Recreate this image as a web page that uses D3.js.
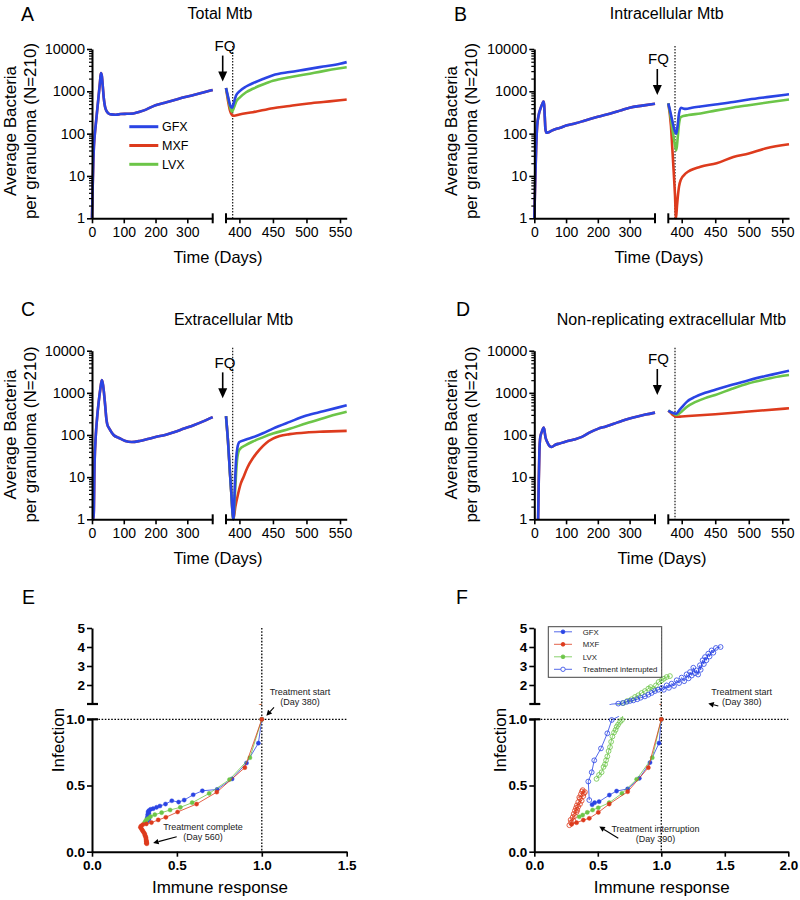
<!DOCTYPE html>
<html><head><meta charset="utf-8">
<script src="https://cdn.jsdelivr.net/npm/d3@7"></script>
<style>
body{margin:0;background:#fff;}
svg{display:block;font-family:"Liberation Sans",Arial,Helvetica,sans-serif;}
</style>
</head><body>
<svg id="c" width="800" height="900"></svg>
<script>
// ---------------- DATA ----------------
const drugs = ["GFX", "MXF", "LVX"];
const panelTitles = ["Total Mtb", "Intracellular Mtb", "Extracellular Mtb", "Non-replicating extracellular Mtb"];
const panelLetters = ["A", "B", "C", "D", "E", "F"];
const logTicks = [1, 10, 100, 1000, 10000];
const leftDayTicks = [0, 100, 200, 300];
const rightDayTicks = [400, 450, 500, 550];
const fqTip = [1700, 820, 740, 890];
const treatmentDay = 390;
const eXTicks = [0, 0.5, 1.0, 1.5];
const fXTicks = [0, 0.5, 1.0, 1.5, 2.0];
const loYTicks = [0, 0.5, 1.0];
const hiYTicks = [2, 3, 4, 5];
const legendF = ["GFX", "MXF", "LVX", "Treatment interrupted"];

// pre-treatment curves (all drugs identical), [day, bacteria]
const preA = [[0,1],[2,5],[4,20],[6,50],[9,100],[13,200],[17,400],[21,800],[25,1600],[28,2700],[31,2300],[34,1300],[37,700],[41,430],[46,340],[52,300],[60,285],[75,280],[90,290],[110,295],[130,300],[150,330],[170,370],[200,470],[230,540],[260,620],[290,720],[320,820],[350,940],[380,1080]];
const preB = [[0,1],[3,8],[6,50],[9,150],[14,280],[20,400],[25,500],[29,570],[31,480],[33,250],[35,130],[38,105],[45,108],[55,118],[70,130],[85,140],[100,155],[130,175],[160,205],[200,250],[240,300],[270,350],[300,410],[340,460],[380,510]];
const preC = [[0,1],[5,1],[8,20],[12,100],[16,250],[21,600],[26,1200],[31,2000],[35,1500],[39,800],[42,450],[45,250],[48,180],[55,140],[68,100],[85,85],[105,72],[125,68],[150,72],[175,80],[200,90],[230,100],[260,118],[290,142],[320,170],[350,210],[380,265]];
const preD = [[12,1],[14,8],[16,40],[19,90],[24,120],[29,150],[31,140],[35,90],[40,70],[48,55],[55,52],[65,58],[80,63],[100,70],[125,78],[150,90],[175,115],[200,140],[225,160],[250,185],[275,215],[300,245],[325,275],[350,305],[380,340]];

// post-treatment curves
const postA_GFX = [[380,1200],[383,750],[386,480],[389,410],[392,560],[395,800],[400,1000],[410,1300],[420,1550],[435,1950],[450,2400],[475,2850],[500,3300],[525,3850],[550,4500],[560,4900]];
const postA_MXF = [[380,1200],[383,600],[386,350],[389,275],[392,265],[400,285],[420,320],[450,400],[475,450],[500,510],[525,560],[550,615],[560,640]];
const postA_LVX = [[380,1200],[383,700],[386,420],[389,330],[392,420],[396,600],[400,700],[410,950],[420,1150],[435,1450],[450,1770],[475,2150],[500,2520],[525,3000],[550,3500],[560,3700]];

const postB_GFX = [[380,520],[383,330],[386,200],[389,125],[392,100],[394,160],[396,300],[399,410],[402,395],[406,385],[415,410],[428,440],[450,490],[477,560],[500,640],[530,740],[560,850]];
const postB_MXF = [[380,520],[384,150],[386,45],[388,13],[390,3.5],[391.5,1],[393,2],[396,5.6],[398.5,8],[406,11.5],[428,16.5],[452,20],[477,28],[500,34],[526,45],[560,56]];
const postB_LVX = [[380,520],[383,280],[386,130],[389,65],[392,40],[394,80],[396,170],[399,250],[410,275],[428,300],[450,350],[477,415],[500,470],[530,550],[560,640]];

const postC_GFX = [[380,280],[383,70],[386,12],[388,4],[390,1.3],[391,1],[393,5],[395,25],[397,50],[400,68],[410,78],[420,88],[435,110],[450,142],[475,205],[500,290],[525,365],[545,440],[560,510]];
const postC_MXF = [[380,280],[383,70],[386,12],[388,4],[390,1.3],[391,1],[394,2],[398,4],[402,7],[406,10],[412,17],[420,28],[430,45],[440,65],[450,82],[460,95],[475,105],[500,115],[525,120],[560,125]];
const postC_LVX = [[380,280],[383,70],[386,12],[388,4],[390,1.3],[391,1],[393,3],[395,12],[397,30],[400,45],[410,58],[420,70],[435,88],[450,108],[475,140],[500,190],[525,250],[545,310],[560,355]];

const postD_GFX = [[380,380],[384,350],[388,330],[392,320],[396,380],[400,450],[408,620],[420,800],[435,1000],[450,1180],[475,1550],[500,2000],[525,2500],[545,2950],[560,3350]];
const postD_MXF = [[380,380],[384,330],[388,290],[392,270],[400,275],[450,310],[500,360],[560,430]];
const postD_LVX = [[380,380],[384,350],[388,320],[392,300],[396,320],[400,360],[408,470],[420,600],[435,750],[450,890],[475,1250],[500,1690],[525,2100],[545,2450],[560,2650]];

// phase plots [immune response, infection]
const E_GFX = [[1.0,1.0],[0.98,0.82],[0.91,0.67],[0.825,0.55],[0.737,0.47],[0.65,0.46],[0.596,0.43],[0.543,0.39],[0.51,0.375],[0.47,0.385],[0.433,0.36],[0.40,0.345],[0.38,0.335],[0.36,0.325],[0.345,0.32],[0.335,0.31],[0.33,0.30],[0.335,0.29],[0.328,0.28],[0.332,0.27],[0.326,0.26],[0.33,0.25],[0.335,0.245],[0.328,0.235],[0.32,0.225]];
const E_MXF = [[1.0,1.0],[0.90,0.635],[0.735,0.45],[0.616,0.36],[0.504,0.30],[0.435,0.26],[0.39,0.24],[0.35,0.22],[0.32,0.21],[0.30,0.205],[0.29,0.195],[0.285,0.185],[0.29,0.175],[0.295,0.165],[0.30,0.155],[0.305,0.145],[0.31,0.135],[0.312,0.125],[0.315,0.115],[0.318,0.105],[0.318,0.095],[0.32,0.085],[0.32,0.078],[0.322,0.07],[0.32,0.064],[0.323,0.06]];
const E_LVX = [[1.0,1.0],[0.93,0.71],[0.81,0.545],[0.69,0.44],[0.59,0.37],[0.52,0.335],[0.46,0.315],[0.41,0.295],[0.37,0.28],[0.345,0.265],[0.33,0.25],[0.32,0.24],[0.315,0.23],[0.31,0.22]];

const F_GFX = [[1.0,1.0],[0.982,0.82],[0.911,0.673],[0.827,0.554],[0.735,0.474],[0.648,0.458],[0.591,0.428],[0.51,0.378],[0.475,0.37],[0.455,0.355]];
const F_MXF = [[1.0,1.0],[0.898,0.635],[0.735,0.453],[0.59,0.36],[0.504,0.297],[0.433,0.252],[0.386,0.239],[0.333,0.219],[0.294,0.207]];
const F_LVX = [[1.0,1.0],[0.929,0.71],[0.806,0.547],[0.69,0.44],[0.59,0.37],[0.504,0.332],[0.459,0.315],[0.417,0.297],[0.381,0.277],[0.354,0.264]];
const F_GFX_int = [[0.433,0.39],[0.425,0.53],[0.452,0.6],[0.472,0.69],[0.525,0.78],[0.575,0.894],[0.61,0.995],[0.661,1.02],[0.696,1.05],[0.727,1.11],[0.753,1.16],[0.78,1.19],[0.811,1.25],[0.837,1.33],[0.871,1.40],[0.898,1.49],[0.924,1.58],[0.95,1.68],[0.976,1.75],[1.003,1.84],[1.02,1.75],[1.042,1.98],[1.06,1.85],[1.081,2.07],[1.10,1.95],[1.121,2.25],[1.14,2.1],[1.16,2.39],[1.18,2.2],[1.199,2.56],[1.215,2.35],[1.226,2.68],[1.24,2.5],[1.252,2.91],[1.265,2.62],[1.278,2.77],[1.29,2.55],[1.304,3.04],[1.31,2.8],[1.325,3.30],[1.335,3.1],[1.344,3.47],[1.355,3.3],[1.37,3.65],[1.38,3.5],[1.396,3.82],[1.41,3.7],[1.43,3.95],[1.467,4.0]];
const F_MXF_int = [[0.276,0.20],[0.29,0.22],[0.286,0.24],[0.307,0.235],[0.302,0.26],[0.32,0.27],[0.31,0.285],[0.333,0.30],[0.32,0.31],[0.339,0.315],[0.328,0.33],[0.346,0.34],[0.335,0.35],[0.36,0.36],[0.346,0.375],[0.373,0.385],[0.36,0.40],[0.354,0.41],[0.386,0.42],[0.367,0.435],[0.399,0.45],[0.381,0.465],[0.39,0.44],[0.375,0.455]];
const F_LVX_int = [[0.49,0.55],[0.51,0.58],[0.53,0.6],[0.545,0.64],[0.557,0.66],[0.565,0.69],[0.575,0.72],[0.585,0.76],[0.596,0.79],[0.605,0.83],[0.615,0.87],[0.628,0.9],[0.64,0.92],[0.649,0.944],[0.66,0.96],[0.675,0.98],[0.69,0.995],[0.701,1.05],[0.732,1.16],[0.766,1.25],[0.793,1.37],[0.819,1.46],[0.845,1.58],[0.871,1.68],[0.898,1.81],[0.916,1.89],[0.937,1.79],[0.958,1.98],[0.979,2.16],[1.003,2.25],[1.021,2.33],[1.042,2.42],[1.068,2.47]];

// ---------------- STYLE / LAYOUT ----------------
const colors = {GFX: "#2a44e4", MXF: "#dd3b1d", LVX: "#6cc548"};
const svg = d3.select("#c");
svg.append("rect").attr("width", 800).attr("height", 900).attr("fill", "#fff");

const timeLayout = [
  {x0: 92,    top: 49,    bot: 218.3, titleX: 220,   titleY: 18.5, letterX: 21,  letterY: 20.7, labelCY: 131, labelX1: 16,  labelX2: 36,  xTitleX: 218, xTitleY: 263, fqX: 222.7, fqTextX: 225, pre: preA, post: {GFX: postA_GFX, MXF: postA_MXF, LVX: postA_LVX}, legend: true},
  {x0: 534.3, top: 49,    bot: 218.3, titleX: 666.7, titleY: 19,   letterX: 454, letterY: 20.7, labelCY: 131, labelX1: 457, labelX2: 477, xTitleX: 659, xTitleY: 263, fqX: 657.3, fqTextX: 658.5, pre: preB, post: {GFX: postB_GFX, MXF: postB_MXF, LVX: postB_LVX}},
  {x0: 92,    top: 350.7, bot: 519.3, titleX: 233.5, titleY: 325,  letterX: 21,  letterY: 316,  labelCY: 434.5, labelX1: 16, labelX2: 36, xTitleX: 218, xTitleY: 564, fqX: 222.7, fqTextX: 225, pre: preC, post: {GFX: postC_GFX, MXF: postC_MXF, LVX: postC_LVX}},
  {x0: 534.3, top: 350.7, bot: 519.3, titleX: 671.5, titleY: 325,  letterX: 456, letterY: 316,  labelCY: 434.5, labelX1: 457, labelX2: 477, xTitleX: 662, xTitleY: 564, fqX: 657.3, fqTextX: 658.5, pre: preD, post: {GFX: postD_GFX, MXF: postD_MXF, LVX: postD_LVX}}
];

function styleAxis(sel, fs, bold) {
  sel.select(".domain").attr("stroke", "#000").attr("stroke-width", 2);
  sel.selectAll(".tick line").attr("stroke", "#000").attr("stroke-width", 1.6);
  sel.selectAll(".tick text").attr("fill", "#000").attr("font-size", fs)
    .attr("font-weight", bold ? "bold" : "normal")
    .attr("font-family", '"Liberation Sans",Arial,sans-serif');
}

timeLayout.forEach((p, i) => {
  const g = svg.append("g");
  const y = d3.scaleLog().domain([1, 10000]).range([p.bot, p.top]);
  const xl = d3.scaleLinear().domain([0, 380]).range([p.x0, p.x0 + 120.7]);
  const xr = d3.scaleLinear().domain([380, 560]).range([p.x0 + 134, p.x0 + 254.7]);

  // dotted treatment line
  g.append("line").attr("x1", xr(treatmentDay)).attr("x2", xr(treatmentDay))
    .attr("y1", p.top - 3).attr("y2", p.bot)
    .attr("stroke", "#000").attr("stroke-width", 1.1).attr("stroke-dasharray", "1.5,1.5");

  const lineL = d3.line().x(d => xl(d[0])).y(d => y(d[1])).curve(d3.curveMonotoneX);
  const lineR = d3.line().x(d => xr(d[0])).y(d => y(d[1])).curve(d3.curveMonotoneX);

  // pre-treatment: red under blue
  ["MXF", "GFX"].forEach(k => {
    g.append("path").datum(p.pre).attr("d", lineL).attr("fill", "none")
      .attr("stroke", colors[k]).attr("stroke-width", 2.6).attr("stroke-linejoin", "round");
  });
  ["MXF", "LVX", "GFX"].forEach(k => {
    g.append("path").datum(p.post[k]).attr("d", lineR).attr("fill", "none")
      .attr("stroke", colors[k]).attr("stroke-width", 2.6).attr("stroke-linejoin", "round");
  });

  // Y axis
  const ya = g.append("g").attr("transform", `translate(${p.x0},0)`)
    .call(d3.axisLeft(y).tickValues(logTicks).tickFormat(d3.format("d")).tickSize(5).tickSizeOuter(0).tickPadding(2));
  styleAxis(ya, 14.5, false);
  const minor = y.ticks().filter(v => logTicks.indexOf(v) < 0);
  const ym = g.append("g").attr("transform", `translate(${p.x0},0)`)
    .call(d3.axisLeft(y).tickValues(minor).tickFormat("").tickSize(3).tickSizeOuter(0));
  ym.select(".domain").remove();
  ym.selectAll(".tick line").attr("stroke", "#000").attr("stroke-width", 1.2);

  // X axes (broken)
  const xa1 = g.append("g").attr("transform", `translate(0,${p.bot})`)
    .call(d3.axisBottom(xl).tickValues(leftDayTicks).tickSize(5).tickSizeOuter(0).tickPadding(4));
  styleAxis(xa1, 14, false);
  const xa2 = g.append("g").attr("transform", `translate(0,${p.bot})`)
    .call(d3.axisBottom(xr).tickValues(rightDayTicks).tickSize(5).tickSizeOuter(0).tickPadding(4));
  styleAxis(xa2, 14, false);
  [xl(380), xr(380)].forEach(xx => {
    g.append("line").attr("x1", xx).attr("x2", xx).attr("y1", p.bot - 5).attr("y2", p.bot + 5)
      .attr("stroke", "#000").attr("stroke-width", 2);
  });

  // FQ arrow
  const tipY = y(fqTip[i]);
  g.append("line").attr("x1", p.fqX).attr("x2", p.fqX).attr("y1", tipY - 26).attr("y2", tipY - 8)
    .attr("stroke", "#000").attr("stroke-width", 1.6);
  g.append("path").attr("d", `M${p.fqX - 4.5},${tipY - 10}L${p.fqX + 4.5},${tipY - 10}L${p.fqX},${tipY}Z`).attr("fill", "#000");
  g.append("text").attr("x", p.fqTextX).attr("y", tipY - 30.5).attr("text-anchor", "middle")
    .attr("font-size", 15).text("FQ");

  // Titles & labels
  g.append("text").attr("x", p.titleX).attr("y", p.titleY).attr("text-anchor", "middle")
    .attr("font-size", 16).text(panelTitles[i]);
  g.append("text").attr("x", p.letterX).attr("y", p.letterY).attr("font-size", 19.5).text(panelLetters[i]);
  g.append("text").attr("transform", `translate(${p.labelX1},${p.labelCY}) rotate(-90)`)
    .attr("text-anchor", "middle").attr("font-size", 17).text("Average Bacteria");
  g.append("text").attr("transform", `translate(${p.labelX2},${p.labelCY}) rotate(-90)`)
    .attr("text-anchor", "middle").attr("font-size", 17).text("per granuloma (N=210)");
  g.append("text").attr("x", p.xTitleX).attr("y", p.xTitleY).attr("text-anchor", "middle")
    .attr("font-size", 16.5).text("Time (Days)");

  if (p.legend) {
    drugs.forEach((k, j) => {
      const ly = 126.7 + j * 18.8;
      g.append("line").attr("x1", p.x0 + 37.3).attr("x2", p.x0 + 66.3).attr("y1", ly).attr("y2", ly)
        .attr("stroke", colors[k]).attr("stroke-width", 3);
      g.append("text").attr("x", p.x0 + 70).attr("y", ly + 4.5).attr("font-size", 12.5).text(k);
    });
  }
});

// ---------------- Phase panels E, F ----------------
const phaseLayout = [
  {x0: 92,    x1: 346.7, xmax: 1.5, ticks: eXTicks, letterX: 22,  xTitleX: 220,   infX: 64,  letter: "E",
   filled: {GFX: E_GFX, LVX: E_LVX, MXF: E_MXF}, open: null,
   notes: [
     {lines: ["Treatment start", "(Day 380)"], tx: 300, ty: 695, tip: [1.0, 1.0], tipDx: 4.6, tipDy: -3.6, tail: [274, 707.3]},
     {lines: ["Treatment complete", "(Day 560)"], tx: 203, ty: 829.5, tip: [0.36, 0.065], tipDx: 0, tipDy: 0, tail: [176.7, 836.7]}
   ]},
  {x0: 534.3, x1: 788.3, xmax: 2.0, ticks: fXTicks, letterX: 456, xTitleX: 661.7, infX: 506, letter: "F",
   filled: {GFX: F_GFX, LVX: F_LVX, MXF: F_MXF}, open: {GFX: F_GFX_int, LVX: F_LVX_int, MXF: F_MXF_int},
   notes: [
     {lines: ["Treatment start", "(Day 380)"], tx: 741.7, ty: 695, tip: [1.37, 1.03], tipDx: 0, tipDy: 0, tail: [718.3, 706]},
     {lines: ["Treatment interruption", "(Day 390)"], tx: 655.5, ty: 832, tip: [0.512, 0.19], tipDx: 0, tipDy: 0, tail: [618.3, 838.3]}
   ]}
];

const defs = svg.append("defs");

phaseLayout.forEach((p, i) => {
  const g = svg.append("g");
  const x = d3.scaleLinear().domain([0, p.xmax]).range([p.x0, p.x1]);
  const yLo = d3.scaleLinear().domain([0, 1]).range([851.7, 719.3]);
  const yHi = d3.scaleLinear().domain([1, 5]).range([704, 628]);

  const clipLo = "clipLo" + i, clipHi = "clipHi" + i;
  defs.append("clipPath").attr("id", clipLo).append("rect")
    .attr("x", p.x0).attr("y", 716).attr("width", p.x1 - p.x0 + 10).attr("height", 140);
  defs.append("clipPath").attr("id", clipHi).append("rect")
    .attr("x", p.x0).attr("y", 622).attr("width", p.x1 - p.x0 + 10).attr("height", 83);

  // dotted reference lines
  g.append("line").attr("x1", x(1)).attr("x2", x(1)).attr("y1", yHi(5)).attr("y2", yLo(0))
    .attr("stroke", "#000").attr("stroke-width", 1.3).attr("stroke-dasharray", "1.6,1.6");
  g.append("line").attr("x1", p.x0).attr("x2", p.x1).attr("y1", yLo(1)).attr("y2", yLo(1))
    .attr("stroke", "#000").attr("stroke-width", 1.3).attr("stroke-dasharray", "1.6,1.6");

  function drawSeries(data, col, open) {
    [[yLo, clipLo, d => d[1] <= 1], [yHi, clipHi, d => d[1] > 1]].forEach(([ys, cid, keep]) => {
      const ln = d3.line().x(d => x(d[0])).y(d => ys(d[1]));
      g.append("path").datum(data).attr("d", ln).attr("fill", "none").attr("stroke", col)
        .attr("stroke-width", 0.8).attr("clip-path", `url(#${cid})`);
      g.selectAll(null).data(data.filter(keep)).enter().append("circle")
        .attr("cx", d => x(d[0])).attr("cy", d => ys(d[1]))
        .attr("r", open ? 2.4 : 2.1)
        .attr("fill", open ? "none" : col).attr("stroke", col).attr("stroke-width", open ? 0.8 : 0.4);
    });
  }
  if (p.open) {
    ["MXF", "LVX", "GFX"].forEach(k => drawSeries(p.open[k], colors[k], true));
  }
  ["GFX", "LVX", "MXF"].forEach(k => drawSeries(p.filled[k], colors[k], false));

  // axes
  const xa = g.append("g").attr("transform", "translate(0,851.7)")
    .call(d3.axisBottom(x).tickValues(p.ticks).tickFormat(d3.format(".1f")).tickSize(5).tickSizeOuter(0).tickPadding(4));
  styleAxis(xa, 13.5, true);
  const ylo = g.append("g").attr("transform", `translate(${p.x0},0)`)
    .call(d3.axisLeft(yLo).tickValues(loYTicks).tickFormat(d3.format(".1f")).tickSize(5).tickSizeOuter(0).tickPadding(2));
  styleAxis(ylo, 13.5, true);
  const yhi = g.append("g").attr("transform", `translate(${p.x0},0)`)
    .call(d3.axisLeft(yHi).tickValues(hiYTicks).tickFormat(d3.format("d")).tickSize(5).tickSizeOuter(0).tickPadding(2));
  styleAxis(yhi, 13.5, true);
  [yLo(1), yHi(1)].forEach(yy => {
    g.append("line").attr("x1", p.x0 - 5).attr("x2", p.x0 + 6).attr("y1", yy).attr("y2", yy)
      .attr("stroke", "#000").attr("stroke-width", 2.2);
  });

  // labels
  g.append("text").attr("x", p.letterX).attr("y", 604).attr("font-size", 19.5).text(p.letter);
  g.append("text").attr("x", p.xTitleX).attr("y", 893).attr("text-anchor", "middle")
    .attr("font-size", 17).text("Immune response");
  g.append("text").attr("transform", `translate(${p.infX},740) rotate(-90)`)
    .attr("text-anchor", "middle").attr("font-size", 17).text("Infection");

  // annotations
  p.notes.forEach(n => {
    n.lines.forEach((t, j) => {
      g.append("text").attr("x", n.tx).attr("y", n.ty + j * 10).attr("text-anchor", "middle")
        .attr("font-size", 9).attr("fill", "#222").text(t);
    });
    const tx = x(n.tip[0]) + n.tipDx;
    const ty = (n.tip[1] > 1 ? yHi(n.tip[1]) : yLo(n.tip[1])) + n.tipDy;
    const [sx, sy] = n.tail;
    const ang = Math.atan2(ty - sy, tx - sx);
    const hl = 5.5, hw = 2.8;
    const bx = tx - hl * Math.cos(ang), by = ty - hl * Math.sin(ang);
    g.append("line").attr("x1", sx).attr("y1", sy).attr("x2", bx).attr("y2", by)
      .attr("stroke", "#000").attr("stroke-width", 1.1);
    g.append("path").attr("d",
      `M${tx},${ty}L${bx - hw * Math.sin(ang)},${by + hw * Math.cos(ang)}L${bx + hw * Math.sin(ang)},${by - hw * Math.cos(ang)}Z`)
      .attr("fill", "#000");
  });

  // legend (F)
  if (p.open) {
    const lg = g.append("g");
    lg.append("rect").attr("x", 548.3).attr("y", 626.7).attr("width", 113.4).attr("height", 50.6)
      .attr("fill", "#fff").attr("stroke", "#444").attr("stroke-width", 1);
    legendF.forEach((name, j) => {
      const ly = 631.8 + j * 12.5;
      const col = j === 3 ? colors.GFX : colors[name];
      lg.append("line").attr("x1", 554).attr("x2", 572).attr("y1", ly).attr("y2", ly)
        .attr("stroke", col).attr("stroke-width", 0.8);
      lg.append("circle").attr("cx", 563).attr("cy", ly).attr("r", j === 3 ? 2.2 : 1.9)
        .attr("fill", j === 3 ? "#fff" : col).attr("stroke", col).attr("stroke-width", 0.8);
      lg.append("text").attr("x", 582.7).attr("y", ly + 2.8).attr("font-size", 7.8).attr("fill", "#222").text(name);
    });
  }
});
</script>
</body></html>
